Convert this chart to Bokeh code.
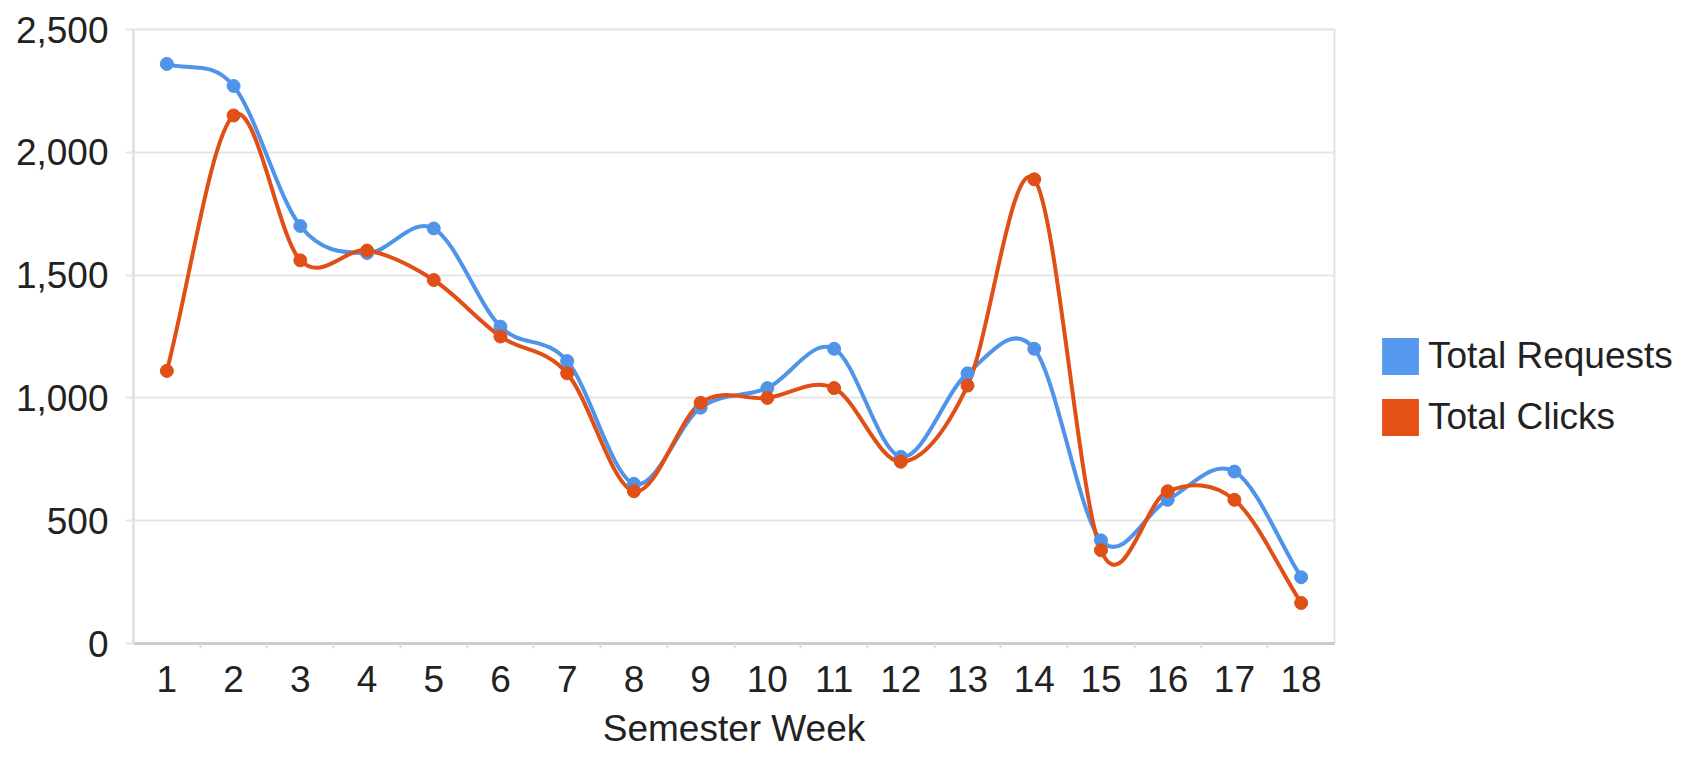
from bokeh.plotting import figure
from bokeh.layouts import row
from bokeh.models import (ColumnDataSource, FixedTicker, NumeralTickFormatter,
                          Range1d, Legend, LegendItem)
from bokeh.embed import file_html
from bokeh.resources import INLINE

weeks = list(range(1, 19))
requests = [2360, 2270, 1700, 1590, 1690, 1290, 1150, 650, 960, 1040,
            1200, 760, 1100, 1200, 420, 585, 700, 270]
clicks = [1110, 2150, 1560, 1600, 1480, 1250, 1100, 620, 980, 1000,
          1040, 740, 1050, 1890, 380, 620, 585, 165]
y_ticks = [0, 500, 1000, 1500, 2000, 2500]
series_names = ["Total Requests", "Total Clicks"]
BLUE = "#5094ea"
RED = "#e04f15"
FONT = "Liberation Sans"
NAN = float("nan")


def smooth_segments(xs, ys):
    """Catmull-Rom style cubic Bezier segments through the data points."""
    n = len(xs)
    m = []
    for i in range(n):
        if i == 0:
            m.append((ys[1] - ys[0]) / (xs[1] - xs[0]))
        elif i == n - 1:
            m.append((ys[-1] - ys[-2]) / (xs[-1] - xs[-2]))
        else:
            m.append((ys[i + 1] - ys[i - 1]) / (xs[i + 1] - xs[i - 1]))
    d = dict(x0=[], y0=[], x1=[], y1=[], cx0=[], cy0=[], cx1=[], cy1=[])
    for i in range(n - 1):
        h = xs[i + 1] - xs[i]
        d["x0"].append(xs[i]); d["y0"].append(ys[i])
        d["x1"].append(xs[i + 1]); d["y1"].append(ys[i + 1])
        d["cx0"].append(xs[i] + h / 3); d["cy0"].append(ys[i] + m[i] * h / 3)
        d["cx1"].append(xs[i + 1] - h / 3); d["cy1"].append(ys[i + 1] - m[i + 1] * h / 3)
    return ColumnDataSource(d)


p = figure(width=1336, height=751, output_backend="svg", toolbar_location=None,
           x_range=Range1d(0.5, len(weeks) + 0.5), y_range=Range1d(0, 2500),
           min_border_left=133, min_border_right=2, min_border_top=29,
           min_border_bottom=107)
p.background_fill_color = "white"
p.border_fill_color = "white"
p.outline_line_color = "#e3e3e3"
p.outline_line_width = 2

# lines
p.bezier(x0="x0", y0="y0", x1="x1", y1="y1", cx0="cx0", cy0="cy0", cx1="cx1", cy1="cy1",
         source=smooth_segments(weeks, requests), line_color=BLUE, line_width=4)
p.bezier(x0="x0", y0="y0", x1="x1", y1="y1", cx0="cx0", cy0="cy0", cx1="cx1", cy1="cy1",
         source=smooth_segments(weeks, clicks), line_color=RED, line_width=4)
# points
p.scatter(weeks, requests, size=13, fill_color=BLUE, line_color=BLUE)
p.scatter(weeks, clicks, size=13, fill_color=RED, line_color=RED)

# grid
p.xgrid.grid_line_color = None
p.ygrid.grid_line_color = "#e6e6e6"
p.ygrid.grid_line_width = 2

# y axis
p.yaxis.ticker = FixedTicker(ticks=y_ticks)
p.yaxis.formatter = NumeralTickFormatter(format="0,0")
p.yaxis.axis_line_color = "#dcdcdc"
p.yaxis.axis_line_width = 2
p.yaxis.major_tick_line_color = "#e6e6e6"
p.yaxis.major_tick_line_width = 2
p.yaxis.major_tick_out = 8
p.yaxis.major_tick_in = 0
p.yaxis.minor_tick_line_color = None
p.yaxis.major_label_standoff = 17
p.yaxis.major_label_text_font = FONT
p.yaxis.major_label_text_font_size = "37px"
p.yaxis.major_label_text_color = "#222222"

# x axis
p.xaxis.ticker = FixedTicker(ticks=weeks, minor_ticks=[w + 0.5 for w in weeks[:-1]])
p.xaxis.axis_line_color = "#cccccc"
p.xaxis.axis_line_width = 3
p.xaxis.major_tick_line_color = None
p.xaxis.major_tick_out = 0
p.xaxis.major_tick_in = 0
p.xaxis.minor_tick_line_color = "#dddddd"
p.xaxis.minor_tick_line_width = 2
p.xaxis.minor_tick_out = 5
p.xaxis.minor_tick_in = 0
p.xaxis.major_label_standoff = 17
p.xaxis.major_label_text_font = FONT
p.xaxis.major_label_text_font_size = "37px"
p.xaxis.major_label_text_color = "#222222"
p.xaxis.axis_label = "Semester Week"
p.xaxis.axis_label_text_font = FONT
p.xaxis.axis_label_text_font_size = "37px"
p.xaxis.axis_label_text_font_style = "normal"
p.xaxis.axis_label_text_color = "#222222"
p.xaxis.axis_label_standoff = 13

# legend panel
pl = figure(width=346, height=751, output_backend="svg", toolbar_location=None,
            x_range=Range1d(0, 1), y_range=Range1d(0, 1),
            x_axis_location=None, y_axis_location=None, min_border=0)
pl.outline_line_color = None
pl.grid.visible = False
pl.background_fill_color = "white"
pl.border_fill_color = "white"
r_req = pl.quad(left=[NAN], right=[NAN], top=[NAN], bottom=[NAN],
                fill_color="#5599ee", line_color=None)
r_clk = pl.quad(left=[NAN], right=[NAN], top=[NAN], bottom=[NAN],
                fill_color="#e55016", line_color=None)
legend = Legend(items=[LegendItem(label=series_names[0], renderers=[r_req]),
                       LegendItem(label=series_names[1], renderers=[r_clk])],
                location=(41, 203), glyph_width=46, glyph_height=46, spacing=15,
                label_standoff=5, padding=0, margin=0, border_line_color=None,
                background_fill_alpha=0, label_text_font=FONT,
                label_text_font_size="37px", label_text_color="#222222")
pl.add_layout(legend, "center")

layout = row(p, pl, spacing=0)
open("out.html", "w").write(file_html(layout, INLINE))
